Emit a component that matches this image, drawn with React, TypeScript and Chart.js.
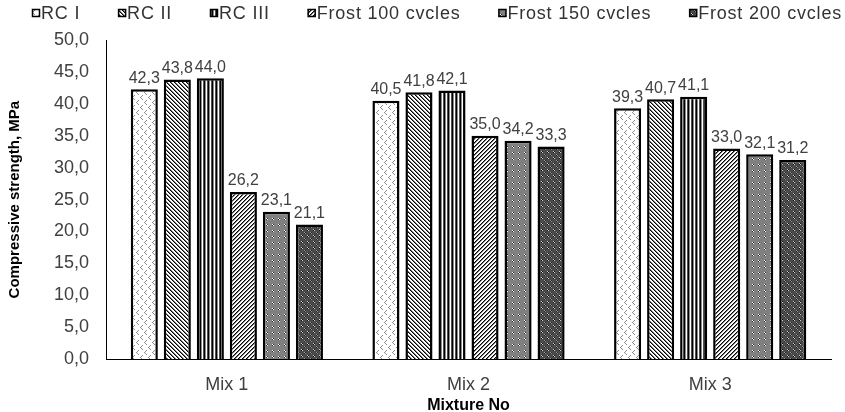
import React, { useEffect, useRef } from "react";
import { Chart, registerables } from "chart.js";

Chart.register(...registerables);

const categories = ["Mix 1", "Mix 2", "Mix 3"];
const seriesNames = ["RC I", "RC II", "RC III", "Frost 100 cvcles", "Frost 150 cvcles", "Frost 200 cvcles"];
const rcI = [42.3, 40.5, 39.3];
const rcII = [43.8, 41.8, 40.7];
const rcIII = [44.0, 42.1, 41.1];
const frost100 = [26.2, 35.0, 33.0];
const frost150 = [23.1, 34.2, 32.1];
const frost200 = [21.1, 33.3, 31.2];
const seriesValues = [rcI, rcII, rcIII, frost100, frost150, frost200];

const FONT = "'Liberation Sans', Arial, sans-serif";

function makePattern(w: number, h: number, draw: (c: CanvasRenderingContext2D) => void) {
  const c = document.createElement("canvas");
  c.width = w;
  c.height = h;
  const ctx = c.getContext("2d")!;
  draw(ctx);
  const tmp = document.createElement("canvas").getContext("2d")!;
  return tmp.createPattern(c, "repeat")!;
}

function px(ctx: CanvasRenderingContext2D, x: number, y: number, col: string) {
  ctx.fillStyle = col;
  ctx.fillRect(x, y, 1, 1);
}

function buildPatterns() {
  const p1 = makePattern(8, 10, (c) => {
    c.fillStyle = "#ffffff";
    c.fillRect(0, 0, 8, 10);
    const g = "#8c8c8c";
    px(c, 2, 0, g); px(c, 1, 1, g); px(c, 0, 2, g); px(c, 1, 3, g); px(c, 2, 4, g);
    px(c, 6, 5, g); px(c, 5, 6, g); px(c, 4, 7, g); px(c, 5, 8, g); px(c, 6, 9, g);
  });
  const p2 = makePattern(4, 4, (c) => {
    c.fillStyle = "#ffffff";
    c.fillRect(0, 0, 4, 4);
    for (let y = 0; y < 4; y++)
      for (let x = 0; x < 4; x++) {
        const k = (x - y + 8) % 4;
        if (k === 0) px(c, x, y, "#000000");
        else if (k === 1) px(c, x, y, "#777777");
      }
  });
  const p3 = makePattern(4, 4, (c) => {
    const cols = ["#000000", "#8a8a8a", "#ffffff", "#505050"];
    for (let x = 0; x < 4; x++) {
      c.fillStyle = cols[x];
      c.fillRect(x, 0, 1, 4);
    }
  });
  const p4 = makePattern(4, 4, (c) => {
    c.fillStyle = "#ffffff";
    c.fillRect(0, 0, 4, 4);
    for (let y = 0; y < 4; y++)
      for (let x = 0; x < 4; x++) {
        const k = (x + y) % 4;
        if (k === 0) px(c, x, y, "#000000");
        else if (k === 1) px(c, x, y, "#777777");
      }
  });
  const p5 = makePattern(6, 6, (c) => {
    c.fillStyle = "#808080";
    c.fillRect(0, 0, 6, 6);
    px(c, 2, 2, "#ffffff"); px(c, 3, 3, "#ffffff");
    px(c, 3, 2, "#2a2a2a"); px(c, 2, 3, "#2a2a2a");
  });
  const p6 = makePattern(6, 6, (c) => {
    c.fillStyle = "#4a4a4a";
    c.fillRect(0, 0, 6, 6);
    px(c, 1, 1, "#d0d0d0"); px(c, 2, 2, "#d0d0d0");
    px(c, 2, 1, "#111111"); px(c, 1, 2, "#111111");
    px(c, 4, 4, "#a0a0a0"); px(c, 5, 5, "#909090");
    px(c, 4, 5, "#222222"); px(c, 5, 4, "#222222");
  });
  return [p1, p2, p3, p4, p5, p6];
}

const fmt = (v: number) => v.toFixed(1).replace(".", ",");

const valueLabels = {
  id: "valueLabels",
  afterDatasetsDraw(chart: any) {
    const ctx = chart.ctx;
    ctx.save();
    ctx.font = `16px ${FONT}`;
    ctx.fillStyle = "#404040";
    ctx.textAlign = "center";
    ctx.textBaseline = "bottom";
    chart.data.datasets.forEach((ds: any, i: number) => {
      const meta = chart.getDatasetMeta(i);
      meta.data.forEach((el: any, j: number) => {
        ctx.fillText(fmt(ds.data[j]), el.x, el.y - 3);
      });
    });
    ctx.restore();
  },
};

// Single-row legend spread between two edges, drawn with the dataset patterns
const LEGEND_LEFT = 32;
const LEGEND_RIGHT = 842;
const LEGEND_Y = 13;
const LEGEND_BOX = 8;
const LEGEND_TEXT_GAP = 1;

const rowLegend = {
  id: "rowLegend",
  afterDraw(chart: any) {
    const ctx = chart.ctx;
    ctx.save();
    ctx.font = `18px ${FONT}`;
    (ctx as any).letterSpacing = "0.8px";
    ctx.textBaseline = "middle";
    ctx.textAlign = "left";
    const items = chart.data.datasets.map((ds: any) => ({
      ds,
      w: LEGEND_BOX + LEGEND_TEXT_GAP + ctx.measureText(ds.label).width,
    }));
    const total = items.reduce((s: number, it: any) => s + it.w, 0);
    const gap = items.length > 1 ? (LEGEND_RIGHT - LEGEND_LEFT - total) / (items.length - 1) : 0;
    let x = LEGEND_LEFT;
    items.forEach(({ ds, w }: any) => {
      ctx.fillStyle = ds.backgroundColor;
      ctx.fillRect(x, LEGEND_Y - LEGEND_BOX / 2, LEGEND_BOX, LEGEND_BOX);
      ctx.strokeStyle = "#000000";
      ctx.lineWidth = 1.5;
      ctx.strokeRect(x + 0.5, LEGEND_Y - LEGEND_BOX / 2 + 0.5, LEGEND_BOX - 1, LEGEND_BOX - 1);
      ctx.fillStyle = "#333333";
      ctx.fillText(ds.label, x + LEGEND_BOX + LEGEND_TEXT_GAP, LEGEND_Y + 1);
      x += w + gap;
    });
    ctx.restore();
  },
};

export default function App() {
  const ref = useRef<HTMLCanvasElement | null>(null);

  useEffect(() => {
    document.body.style.margin = "0";
    const patterns = buildPatterns();
    const chart = new Chart(ref.current!, {
      type: "bar",
      data: {
        labels: categories,
        datasets: seriesNames.map((name, i) => ({
          label: name,
          data: seriesValues[i],
          backgroundColor: patterns[i] as any,
          borderColor: "#000000",
          borderWidth: 2.5,
          categoryPercentage: 0.82,
          barPercentage: 0.82,
        })),
      },
      options: {
        animation: false,
        responsive: true,
        maintainAspectRatio: false,
        layout: { padding: { left: 4, right: 14, top: 40, bottom: -3 } },
        plugins: {
          tooltip: { enabled: false },
          legend: { display: false },
        },
        scales: {
          x: {
            grid: { display: false, drawTicks: false },
            border: { color: "#000000", width: 1 },
            ticks: { font: { family: FONT, size: 18 }, color: "#404040", padding: 15 },
            title: {
              display: true,
              text: "Mixture No",
              font: { family: FONT, size: 16, weight: "bold" },
              color: "#000000",
              padding: { top: -15, bottom: 0 },
            },
          },
          y: {
            min: 0,
            max: 50,
            grid: { display: false, drawTicks: false },
            border: { color: "#000000", width: 1 },
            ticks: {
              stepSize: 5,
              autoSkip: false,
              font: { family: FONT, size: 18 },
              color: "#404040",
              padding: 17,
              callback: (v: any) => fmt(Number(v)),
            },
            title: {
              display: true,
              text: "Compressive strength, MPa",
              font: { family: FONT, size: 15, weight: "bold" },
              color: "#000000",
              padding: { top: 2, bottom: 13 },
            },
          },
        },
      },
      plugins: [valueLabels, rowLegend],
    });
    return () => chart.destroy();
  }, []);

  return (
    <div style={{ position: "fixed", left: 0, top: 0, width: 845, height: 412, background: "#fff" }}>
      <canvas ref={ref} />
    </div>
  );
}
